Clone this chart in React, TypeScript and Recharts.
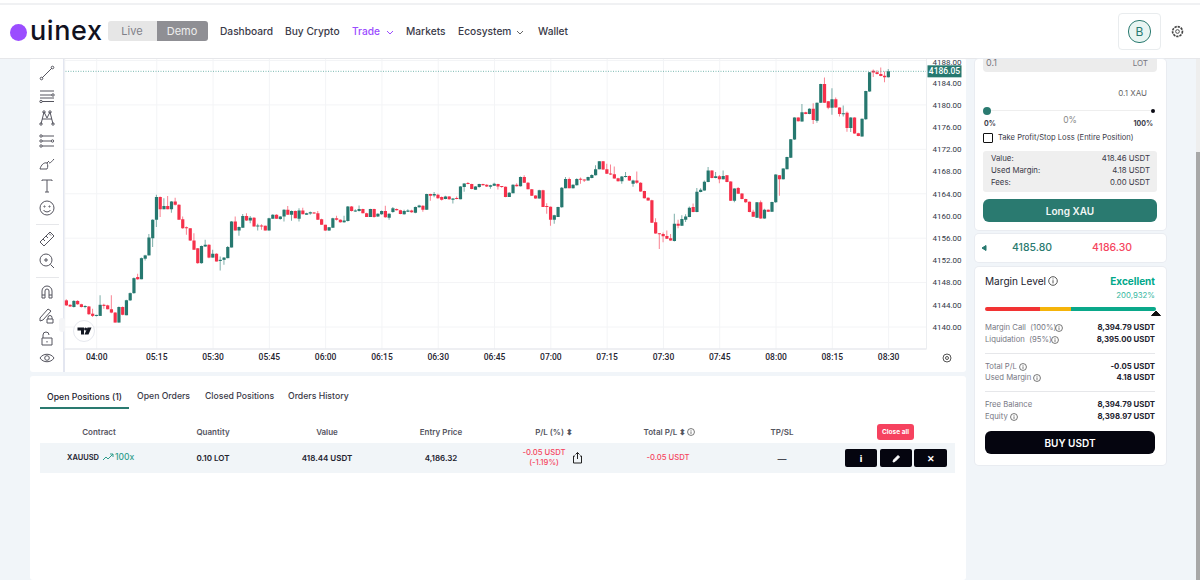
import React from 'react';
import { ComposedChart, Bar, Cell, XAxis, YAxis, CartesianGrid, ReferenceLine } from 'recharts';

const TEAL = '#26786f';
const RED = '#f5304a';
const FONT = 'Inter, sans-serif';
const AXIS_FONT = 'Roboto, sans-serif';

// one minute candles, XAU/USD
const opens = [
  4144.8, 4144.0, 4143.6, 4144.7, 4144.1, 4143.6, 4143.7, 4142.4, 4142.0, 4142.0,
  4144.0, 4143.9, 4143.2, 4142.6, 4140.8, 4143.6, 4142.1, 4144.8, 4146.1, 4149.0,
  4148.6, 4152.3, 4152.9, 4156.0, 4159.3, 4163.4, 4161.2, 4161.8, 4161.2, 4162.6,
  4162.0, 4159.4, 4157.9, 4157.8, 4155.6, 4154.2, 4151.5, 4154.5, 4154.8, 4152.5,
  4153.2, 4151.9, 4152.1, 4152.4, 4154.3, 4159.0, 4157.4, 4157.9, 4160.0, 4159.2,
  4159.7, 4158.1, 4158.3, 4158.25, 4157.4, 4159.5, 4160.2, 4159.45, 4159.9, 4161.1,
  4160.2, 4160.9, 4159.5, 4161.0, 4160.2, 4160.45, 4160.6, 4160.5, 4159.4, 4158.4,
  4157.4, 4157.9, 4159.6, 4159.3, 4158.85, 4159.1, 4161.7, 4160.8, 4160.9, 4161.25,
  4160.5, 4159.8, 4161.25, 4159.9, 4160.3, 4160.9, 4159.7, 4160.7, 4161.25, 4161.05,
  4160.3, 4160.75, 4161.0, 4160.6, 4161.55, 4161.85, 4161.1, 4163.95, 4163.7, 4163.8,
  4163.4, 4163.05, 4163.5, 4162.9, 4163.2, 4163.0, 4165.2, 4165.9, 4165.75, 4164.7,
  4165.2, 4165.75, 4165.6, 4165.25, 4165.45, 4165.75, 4165.35, 4165.25, 4163.4, 4164.1,
  4165.6, 4165.35, 4167.0, 4166.0, 4164.8, 4163.7, 4163.15, 4164.65, 4161.7, 4161.65,
  4159.3, 4159.8, 4161.55, 4165.0, 4166.65, 4165.0, 4165.55, 4166.7, 4166.55, 4166.4,
  4166.85, 4167.35, 4168.4, 4169.85, 4168.4, 4167.65, 4167.5, 4166.8, 4166.25, 4167.0,
  4167.2, 4165.8, 4166.4, 4166.0, 4164.5, 4163.3, 4162.85, 4158.85, 4156.9, 4156.75,
  4156.4, 4156.0, 4155.5, 4158.6, 4158.25, 4159.3, 4159.8, 4161.6, 4160.7, 4164.3,
  4164.6, 4166.1, 4168.2, 4166.85, 4167.15, 4166.6, 4167.35, 4166.2, 4162.75, 4165.05,
  4164.05, 4163.05, 4162.55, 4160.75, 4159.7, 4162.45, 4159.55, 4161.1, 4160.75, 4162.45,
  4167.35, 4166.6, 4168.4, 4170.5, 4173.75, 4177.75, 4177.0, 4178.7, 4178.35, 4179.3,
  4177.15, 4180.4, 4183.75, 4180.65, 4179.5, 4181.0, 4179.55, 4178.3, 4178.6, 4175.85,
  4177.75, 4174.9, 4174.3, 4177.4, 4182.4, 4186.15, 4185.9, 4185.55, 4185.25, 4185.0,
];
const highs = [
  4145.0, 4144.1, 4144.8, 4144.8, 4144.2, 4143.9, 4143.8, 4143.3, 4142.2, 4145.7,
  4144.2, 4144.0, 4145.7, 4142.7, 4143.7, 4143.7, 4144.9, 4146.2, 4148.9, 4149.6,
  4152.5, 4153.0, 4156.75, 4159.4, 4163.8, 4163.5, 4163.2, 4163.6, 4162.7, 4163.3,
  4162.1, 4159.9, 4158.1, 4157.8, 4156.9, 4154.2, 4154.7, 4155.7, 4154.9, 4153.9,
  4153.3, 4152.7, 4152.6, 4154.6, 4159.1, 4159.9, 4158.1, 4160.35, 4160.5, 4160.0,
  4159.8, 4158.6, 4158.5, 4158.3, 4159.7, 4160.3, 4160.3, 4160.0, 4161.2, 4161.8,
  4161.0, 4161.0, 4161.4, 4161.5, 4160.6, 4160.8, 4160.7, 4160.9, 4159.5, 4158.4,
  4158.0, 4159.7, 4160.05, 4159.4, 4160.05, 4161.8, 4161.8, 4161.2, 4161.9, 4161.3,
  4160.6, 4161.3, 4161.3, 4160.5, 4161.0, 4161.85, 4160.5, 4161.6, 4161.35, 4161.1,
  4161.1, 4161.2, 4161.1, 4161.7, 4162.0, 4161.95, 4164.0, 4164.0, 4164.3, 4164.0,
  4163.5, 4163.65, 4163.6, 4163.2, 4163.5, 4165.4, 4165.9, 4166.1, 4165.8, 4165.4,
  4165.8, 4165.8, 4165.7, 4165.6, 4166.0, 4165.8, 4165.4, 4165.3, 4164.3, 4165.7,
  4165.9, 4167.1, 4167.35, 4166.1, 4164.85, 4163.75, 4164.7, 4164.7, 4162.3, 4161.7,
  4160.2, 4161.65, 4165.2, 4167.0, 4166.95, 4165.7, 4166.8, 4166.95, 4166.6, 4167.05,
  4167.5, 4169.15, 4169.9, 4169.9, 4169.4, 4169.25, 4168.9, 4166.9, 4167.2, 4167.9,
  4167.3, 4166.5, 4168.0, 4166.05, 4164.55, 4163.35, 4162.9, 4159.6, 4156.95, 4157.0,
  4157.4, 4156.75, 4160.4, 4159.3, 4160.15, 4160.3, 4161.7, 4162.25, 4165.05, 4165.0,
  4166.4, 4168.8, 4168.25, 4167.9, 4167.4, 4168.2, 4167.4, 4166.25, 4165.0, 4165.2,
  4164.1, 4163.1, 4162.6, 4161.1, 4162.5, 4162.8, 4161.3, 4161.15, 4162.55, 4167.5,
  4167.4, 4168.6, 4170.65, 4173.85, 4177.8, 4177.8, 4180.15, 4178.75, 4179.4, 4180.3,
  4180.45, 4183.8, 4184.95, 4180.7, 4183.0, 4181.35, 4179.6, 4179.9, 4178.8, 4177.8,
  4177.8, 4175.0, 4177.55, 4182.55, 4185.95, 4186.4, 4186.25, 4186.75, 4186.0, 4186.45,
];
const lows = [
  4143.8, 4143.6, 4143.5, 4144.0, 4143.5, 4143.4, 4142.2, 4141.8, 4141.9, 4142.0,
  4143.3, 4143.2, 4142.5, 4140.8, 4140.8, 4142.1, 4142.1, 4144.7, 4146.0, 4148.5,
  4148.6, 4152.0, 4152.9, 4154.4, 4158.0, 4159.8, 4161.2, 4161.2, 4160.6, 4161.9,
  4159.3, 4157.7, 4156.6, 4155.5, 4153.9, 4151.4, 4151.4, 4154.4, 4152.4, 4152.5,
  4151.8, 4150.2, 4151.2, 4152.4, 4154.3, 4157.4, 4156.45, 4157.9, 4159.1, 4158.7,
  4158.1, 4157.4, 4157.5, 4157.4, 4157.4, 4159.5, 4159.5, 4159.3, 4159.0, 4160.2,
  4159.15, 4159.6, 4159.0, 4160.3, 4160.2, 4160.2, 4160.4, 4159.3, 4158.4, 4157.3,
  4157.3, 4157.9, 4159.2, 4158.8, 4158.8, 4159.0, 4160.8, 4160.7, 4160.8, 4160.5,
  4159.8, 4159.8, 4159.7, 4159.8, 4160.2, 4159.7, 4159.3, 4160.6, 4161.0, 4160.3,
  4160.2, 4160.7, 4160.6, 4160.5, 4161.5, 4160.75, 4161.1, 4162.75, 4163.35, 4163.1,
  4162.8, 4163.0, 4162.9, 4162.25, 4163.0, 4163.0, 4164.35, 4165.7, 4164.8, 4164.7,
  4165.1, 4165.5, 4165.2, 4164.9, 4165.4, 4164.75, 4165.1, 4163.35, 4163.4, 4164.1,
  4165.3, 4165.3, 4165.95, 4164.8, 4163.6, 4163.1, 4163.1, 4161.6, 4160.4, 4158.25,
  4158.6, 4159.8, 4161.5, 4165.0, 4165.0, 4164.95, 4165.5, 4165.8, 4166.1, 4166.4,
  4166.8, 4167.3, 4168.4, 4168.3, 4167.55, 4167.4, 4166.7, 4166.2, 4165.8, 4166.95,
  4166.3, 4165.25, 4165.8, 4164.35, 4163.15, 4162.75, 4158.75, 4156.8, 4154.05, 4155.25,
  4155.85, 4155.55, 4155.4, 4157.8, 4158.2, 4158.9, 4159.75, 4160.65, 4160.65, 4164.25,
  4164.55, 4166.05, 4166.8, 4166.8, 4165.9, 4166.55, 4166.05, 4162.7, 4162.45, 4163.95,
  4163.0, 4162.4, 4160.65, 4159.8, 4159.65, 4159.5, 4159.5, 4160.7, 4160.7, 4162.4,
  4163.65, 4166.55, 4168.4, 4170.45, 4173.7, 4177.0, 4176.95, 4178.3, 4178.3, 4176.55,
  4176.8, 4180.35, 4180.35, 4179.2, 4178.25, 4179.5, 4177.9, 4177.9, 4175.15, 4175.1,
  4174.8, 4174.35, 4174.25, 4177.35, 4182.35, 4185.05, 4185.5, 4185.15, 4184.1, 4184.95,
];
const closes = [
  4143.9, 4143.7, 4144.7, 4144.1, 4143.6, 4143.7, 4142.3, 4142.0, 4142.1, 4144.0,
  4143.8, 4143.2, 4142.6, 4140.8, 4143.6, 4142.2, 4144.8, 4146.1, 4148.8, 4148.6,
  4152.4, 4152.9, 4156.1, 4159.3, 4163.4, 4161.2, 4161.8, 4161.2, 4162.6, 4162.0,
  4159.3, 4157.8, 4157.8, 4155.6, 4153.9, 4151.5, 4154.6, 4154.8, 4152.5, 4153.2,
  4151.8, 4152.1, 4152.5, 4154.4, 4159.0, 4157.4, 4158.0, 4160.0, 4159.2, 4159.7,
  4158.1, 4158.3, 4158.1, 4157.4, 4159.6, 4160.2, 4159.5, 4159.9, 4161.1, 4160.2,
  4160.9, 4159.6, 4161.0, 4160.3, 4160.5, 4160.65, 4160.45, 4159.3, 4158.4, 4157.4,
  4157.95, 4159.6, 4159.3, 4158.85, 4159.2, 4161.7, 4160.9, 4161.0, 4161.25, 4160.5,
  4159.8, 4161.25, 4159.8, 4160.4, 4160.9, 4159.75, 4160.4, 4161.4, 4161.05, 4160.35,
  4160.9, 4161.0, 4160.65, 4161.6, 4161.9, 4161.1, 4163.95, 4163.65, 4163.95, 4163.2,
  4162.9, 4163.5, 4163.0, 4163.15, 4163.05, 4165.3, 4165.85, 4165.75, 4164.85, 4165.3,
  4165.75, 4165.55, 4165.3, 4165.55, 4165.8, 4165.3, 4165.2, 4163.4, 4164.2, 4165.6,
  4165.35, 4167.0, 4166.0, 4164.8, 4163.65, 4163.15, 4164.65, 4161.6, 4161.6, 4159.3,
  4160.15, 4161.6, 4165.1, 4166.65, 4165.0, 4165.6, 4166.65, 4166.5, 4166.4, 4167.0,
  4167.4, 4168.4, 4169.85, 4168.35, 4167.6, 4167.45, 4166.75, 4166.25, 4167.1, 4167.2,
  4166.4, 4166.4, 4166.0, 4164.4, 4163.2, 4162.8, 4158.8, 4156.85, 4156.7, 4156.35,
  4155.9, 4155.6, 4158.6, 4158.25, 4159.45, 4159.9, 4161.5, 4160.7, 4164.35, 4164.7,
  4166.15, 4168.2, 4166.85, 4167.15, 4166.6, 4167.2, 4166.1, 4162.75, 4164.95, 4164.0,
  4163.05, 4162.45, 4160.7, 4159.85, 4162.45, 4159.55, 4161.1, 4160.75, 4162.5, 4167.45,
  4166.6, 4168.55, 4170.6, 4173.8, 4177.75, 4177.05, 4178.7, 4178.35, 4179.3, 4177.3,
  4180.4, 4183.75, 4180.4, 4179.5, 4181.0, 4179.55, 4178.35, 4178.5, 4175.85, 4177.75,
  4174.85, 4174.4, 4177.5, 4182.5, 4185.9, 4185.85, 4185.55, 4185.2, 4185.0, 4186.05,
];

const tickSlots = [8, 24, 39, 54, 69, 84, 99, 114, 129, 144, 159, 174, 189, 204, 219];
const tickLabels = ['04:00', '05:15', '05:30', '05:45', '06:00', '06:15', '06:30', '06:45', '07:00', '07:15', '07:30', '07:45', '08:00', '08:15', '08:30'];
const priceTicks = [4140, 4144, 4148, 4152, 4156, 4160, 4164, 4168, 4172, 4176, 4180, 4184, 4188];
const lastPrice = 4186.05;

const candles = opens.map((open, i) => ({
  slot: i,
  body: [Math.min(open, closes[i]), Math.max(open, closes[i])],
  wick: [lows[i], highs[i]],
  up: closes[i] >= open,
}));

function PriceBadge({ viewBox }: any) {
  const x = viewBox.x + viewBox.width;
  return (
    <g>
      <rect x={x + 1} y={viewBox.y - 6} width={34} height={12} fill={TEAL} />
      <text x={x + 18} y={viewBox.y + 3} textAnchor="middle" fontSize={8.5} fontWeight={500} fontFamily={AXIS_FONT} fill="#fff">
        {lastPrice.toFixed(2)}
      </text>
    </g>
  );
}

function CandleChart() {
  return (
    <ComposedChart
      width={902}
      height={312}
      data={candles}
      barGap={0}
      margin={{ top: 0, right: 0, bottom: 0, left: 0.8 }}
    >
      <CartesianGrid xAxisId="body" stroke="#f3f4f6" />
      <XAxis
        xAxisId="body"
        dataKey="slot"
        ticks={tickSlots}
        interval={0}
        tickFormatter={(v: number) => tickLabels[tickSlots.indexOf(v)]}
        padding={{ left: 0, right: 36 }}
        height={21}
        tickSize={0}
        tickMargin={5}
        axisLine={{ stroke: '#e3e5ea' }}
        tick={{ fontSize: 8.5, fontWeight: 500, fontFamily: AXIS_FONT, fill: '#1f2430' }}
      />
      <XAxis xAxisId="wick" dataKey="slot" hide padding={{ left: 0, right: 36 }} />
      <YAxis
        orientation="right"
        domain={[4136.04, 4188.45]}
        ticks={priceTicks}
        allowDataOverflow
        width={39.5}
        tickSize={0}
        tickMargin={6}
        axisLine={{ stroke: '#eceef1' }}
        tickFormatter={(v: number) => v.toFixed(2)}
        tick={{ fontSize: 8, fontFamily: AXIS_FONT, fill: '#333846' }}
      />
      <ReferenceLine
        xAxisId="body"
        y={lastPrice}
        stroke="#3f9a8f"
        strokeOpacity={0.7}
        strokeDasharray="1 1.5"
        label={(props: any) => <PriceBadge {...props} />}
      />
      <Bar xAxisId="wick" dataKey="wick" barSize={1} isAnimationActive={false}>
        {candles.map((c) => (
          <Cell key={c.slot} fill={c.up ? TEAL : RED} fillOpacity={0.6} />
        ))}
      </Bar>
      <Bar xAxisId="body" dataKey="body" barSize={3.2} minPointSize={1} isAnimationActive={false}>
        {candles.map((c) => (
          <Cell key={c.slot} fill={c.up ? TEAL : RED} />
        ))}
      </Bar>
    </ComposedChart>
  );
}

// absolutely placed text; align picks which side x refers to
function T({ x, y, s = 9, w = 400, c = '#3a3a48', a = 'left', children }: any) {
  const shift = a === 'left' ? '0' : a === 'right' ? '-100%' : '-50%';
  return (
    <span
      style={{
        position: 'absolute', left: x, top: y, fontSize: s, fontWeight: w, color: c, whiteSpace: 'pre',
        lineHeight: 1, transform: `translate(${shift}, -50%)`,
      }}
    >
      {children}
    </span>
  );
}

function Box({ x, y, w, h, bg = '#fff', r = 0, style }: any) {
  return <div style={{ position: 'absolute', left: x, top: y, width: w, height: h, background: bg, borderRadius: r, ...style }} />;
}

function Icon({ x, y, size = 18, box = 18, children, c = '#55555f' }: any) {
  return (
    <svg
      width={size}
      height={size}
      viewBox={`0 0 ${box} ${box}`}
      fill="none"
      stroke={c}
      strokeWidth={1}
      style={{ position: 'absolute', left: x - size / 2, top: y - size / 2 }}
    >
      {children}
    </svg>
  );
}

function Info({ x, y, size = 8 }: any) {
  return (
    <Icon x={x} y={y} size={size} box={10} c="#555">
      <circle cx={5} cy={5} r={4.3} />
      <path d="M5 4.2V7.4M5 2.5V3.4" />
    </Icon>
  );
}

const toolbarIcons = [
  [73, <g><path d="M4 14L14 4" /><circle cx={3.5} cy={14.5} r={1.3} /><circle cx={14.5} cy={3.5} r={1.3} /></g>],
  [96, <g><path d="M2 4H16M2 8H14M2 11H16M4 14.5H16" /><circle cx={15} cy={8} r={1.2} /><circle cx={3} cy={14.5} r={1.2} /></g>],
  [118, <g><path d="M3 15L6 3L9 9L12 3L15 15M4 10L14 10" /><circle cx={3} cy={15} r={1.2} /><circle cx={6} cy={3} r={1.2} /><circle cx={12} cy={3} r={1.2} /><circle cx={15} cy={15} r={1.2} /></g>],
  [141, <g><path d="M4 4H16M4 9H13M4 14H16" /><circle cx={3} cy={4} r={1.2} /><circle cx={14.5} cy={9} r={1.2} /><circle cx={3} cy={14} r={1.2} /><circle cx={3} cy={9} r={1.2} /></g>],
  [163, <g><path d="M2 15C3 11 6 8 9 9C10 11 10 13 9 15ZM9 9L11 7M11 9C13 9 14 7 16 5" /></g>],
  [186, <g><path d="M4 4V3H14V4M9 3V15M7 15H11" /></g>],
  [208, <g><circle cx={9} cy={9} r={7} /><circle cx={6.5} cy={7.5} r={0.6} /><circle cx={11.5} cy={7.5} r={0.6} /><path d="M5.5 11C7 13.5 11 13.5 12.5 11" /></g>],
  [239, <g><path d="M2 12L12 2L16 6L6 16ZM5 9L7 11M8 6L10 8M11 3.5L13 5.5" /></g>],
  [261, <g><circle cx={8} cy={8} r={6} /><path d="M12.5 12.5L16 16M6 8H10M8 6V10" /></g>],
  [292, <g><path d="M4 15V8A5 5 0 0 1 14 8V15H11V8A2 2 0 0 0 7 8V15ZM4 12H7M11 12H14" /></g>],
  [315, <g><path d="M2 12L10 3L13 5L5 14L2 15ZM10 13V11.5A1.5 1.5 0 0 1 14 11.5V13M9 13H15V17H9Z" /></g>],
  [338, <g><path d="M5 9V6A3 3 0 0 1 11 6M4 9H14V16H4ZM9 12V13.5" /></g>],
  [358, <g><path d="M2 9C5 4 13 4 16 9C13 14 5 14 2 9Z" /><circle cx={9} cy={9} r={2.3} /></g>],
] as const;

const summaryRows = [
  ['Value:', '418.46 USDT', 159],
  ['Used Margin:', '4.18 USDT', 171],
  ['Fees:', '0.00 USDT', 183],
] as const;

const marginRows = [
  ['Margin Call  (100%)', '8,394.79 USDT', 328, 1059],
  ['Liquidation  (95%)', '8,395.00 USDT', 340, 1055],
  ['Total P/L', '-0.05 USDT', 367, 1023],
  ['Used Margin', '4.18 USDT', 378, 1037],
  ['Free Balance', '8,394.79 USDT', 405, 0],
  ['Equity', '8,398.97 USDT', 417, 1014],
] as const;

const tableHeads = [
  ['Contract', 99],
  ['Quantity', 213],
  ['Value', 327],
  ['Entry Price', 441],
  ['P/L (%) ⬍', 554],
  ['Total P/L ⬍', 665],
  ['TP/SL', 782],
] as const;

const cardEdge = { boxShadow: '0 0 0 1px #e9ecf1' };

export default function App() {
  return (
    <div style={{ position: 'fixed', left: 0, top: 0, width: 1200, height: 580, overflow: 'hidden', background: '#f1f5f9', fontFamily: FONT }}>
      {/* chart panel */}
      <Box x={30} y={58} w={936} h={314} r={3} />
      <Box x={63} y={58} w={2} h={314} bg="#e3e6f0" />
      <div style={{ position: 'absolute', left: 64, top: 58 }}>
        <CandleChart />
      </div>
      {toolbarIcons.map(([y, icon]) => (
        <Icon key={y} x={47} y={y}>{icon}</Icon>
      ))}
      <Box x={36} y={224} w={23} h={1} bg="#e6e7ea" />
      <Box x={36} y={277} w={23} h={1} bg="#e6e7ea" />
      <Box x={59} y={318} w={6} h={14} r={3} bg="#f4f5f7" />
      <Box x={73} y={320} w={20} h={20} r={11} style={{ border: '1px solid #e6e8ee' }} />
      <Icon x={84} y={331} size={15} box={15} c="none">
        <path d="M0.5 3.5H7V10.5H4V6.5H0.5Z" fill="#131722" />
        <circle cx={8.6} cy={5} r={1.5} fill="#131722" />
        <path d="M10.5 3.5H14.5L11.5 10.5H7.5Z" fill="#131722" />
      </Icon>
      <Icon x={947} y={358} size={10} box={10} c="#555">
        <circle cx={5} cy={5} r={4} />
        <circle cx={5} cy={5} r={1.5} />
      </Icon>

      {/* scrollbar */}
      <Box x={1196} y={58} w={4} h={94} bg="#eeeeee" />
      <Box x={1196} y={152} w={4} h={428} bg="#a8a8a8" />

      {/* nav */}
      <Box x={0} y={0} w={1200} h={3} />
      <Box x={0} y={3} w={1200} h={2} bg="#f0f1f3" />
      <Box x={0} y={5} w={1200} h={53} style={{ borderBottom: '1px solid #e6e7ea' }} />
      <Box x={10} y={24} w={17} h={17} r={9} bg="#9b4dff" />
      <T x={30} y={30} s={27} w={500} c="#12121f">
        <span style={{ letterSpacing: 0.6 }}>uinex</span>
      </T>
      <Box x={108} y={21} w={50} h={20} r="3px 0 0 3px" bg="#e6e6e6" />
      <Box x={157} y={21} w={51} h={20} r="0 3px 3px 0" bg="#8f8f94" />
      <T x={132} y={31} s={11} c="#7f7f88" a="center">Live</T>
      <T x={182} y={31} s={11} c="#eeeeee" a="center">Demo</T>
      <T x={220} y={31} s={10.2} w={500}>Dashboard</T>
      <T x={285} y={31} s={10.2} w={500}>Buy Crypto</T>
      <T x={352} y={31} s={10.2} w={500} c="#9b4dff">Trade</T>
      <T x={406} y={31} s={10.2} w={500}>Markets</T>
      <T x={458} y={31} s={10.2} w={500}>Ecosystem</T>
      <T x={538} y={31} s={10.2} w={500}>Wallet</T>
      <Icon x={390} y={32} size={8} box={8} c="#9b4dff"><path d="M1 3L4 6L7 3" /></Icon>
      <Icon x={520} y={32} size={8} box={8} c="#666"><path d="M1 3L4 6L7 3" /></Icon>
      <Box x={1118} y={13} w={41} h={35} r={4} style={{ border: '1px solid #e9ecee' }} />
      <div style={{ position: 'absolute', left: 1128, top: 20, width: 21, height: 21, borderRadius: 11, background: '#e8f5f2', border: '1px solid #2a7a70', display: 'flex', alignItems: 'center', justifyContent: 'center', color: '#2a7a70', fontSize: 12 }}>B</div>
      <Icon x={1177} y={31} size={13} box={14} c="#444">
        <circle cx={7} cy={7} r={2} />
        <circle cx={7} cy={7} r={5.3} strokeDasharray="2.5 1" strokeWidth={1.8} />
      </Icon>

      {/* order card */}
      <Box x={975} y={59} w={191} h={171} r={4} style={cardEdge} />
      <Box x={983} y={59} w={174} h={13} r="0 0 4px 4px" bg="#ececec" />
      <T x={986} y={62} s={9} c="#77777f">0.1</T>
      <T x={1148} y={63} s={8} c="#77777f" a="right">LOT</T>
      <T x={1147} y={93} s={8} c="#666" a="right">0.1 XAU</T>
      <Box x={987} y={110} w={166} h={1} bg="#eeeeee" />
      <Box x={983} y={107} w={8} h={8} r={4} bg="#2a7a70" />
      <Box x={1151} y={109} w={4} h={4} r={2} bg="#0a0a14" />
      <T x={984} y={123} s={7} w={700}>0%</T>
      <T x={1070} y={120} s={8.5} c="#888" a="center">0%</T>
      <T x={1153} y={123} s={7} w={700} a="right">100%</T>
      <Box x={983} y={133} w={8} h={8} r={1} bg="#fff" style={{ border: '1.5px solid #111' }} />
      <T x={998} y={138} s={7.6}>Take Profit/Stop Loss (Entire Position)</T>
      <Box x={983} y={151} w={174} h={41} r={3} bg="#efefef" />
      {summaryRows.map(([k, v, y]) => (
        <React.Fragment key={k}>
          <T x={991} y={y} s={7.8}>{k}</T>
          <T x={1150} y={y} s={7.8} a="right">{v}</T>
        </React.Fragment>
      ))}
      <Box x={983} y={199} w={174} h={23} r={6} bg="#2a7a70" />
      <T x={1070} y={211} s={10} w={600} c="#f3f7f6" a="center">Long XAU</T>

      {/* quote card */}
      <Box x={975} y={234} w={191} h={28} r={4} style={cardEdge} />
      <Icon x={984} y={248} size={8} box={8} c={TEAL}><path d="M2 4L6 1.5V6.5Z" fill={TEAL} /></Icon>
      <T x={1032} y={248} s={10.5} w={500} c="#2a7a70" a="center">4185.80</T>
      <T x={1112} y={248} s={10.5} w={500} c="#f5455e" a="center">4186.30</T>

      {/* margin card */}
      <Box x={975} y={267} w={191} h={198} r={4} style={cardEdge} />
      <T x={985} y={281} s={10.1} c="#23232f">Margin Level</T>
      <Info x={1053} y={281} size={10} />
      <T x={1155} y={281} s={10} w={700} c="#00a88a" a="right">Excellent</T>
      <T x={1155} y={296} s={7.8} c="#38b79f" a="right">200,932%</T>
      <Box x={985} y={307} w={56} h={4} r="2px 0 0 2px" bg="#f23333" />
      <Box x={1040} y={307} w={31} h={4} bg="#f5b40a" />
      <Box x={1071} y={307} w={85} h={4} r="0 2px 2px 0" bg="#0aa88a" />
      <Icon x={1156} y={313} size={10} box={10} c="#111"><path d="M0.5 7.5L5 3L9.5 7.5Z" fill="#111" /></Icon>
      {marginRows.map(([k, v, y, info]) => (
        <React.Fragment key={k}>
          <T x={985} y={y} s={7.7} c="#787884">{k}</T>
          <T x={1155} y={y} s={7.8} w={700} c="#23232f" a="right">{v}</T>
          {info > 0 && <Info x={info} y={y} />}
        </React.Fragment>
      ))}
      <Box x={985} y={353} w={170} h={1} bg="#e6e7ea" />
      <Box x={985} y={391} w={170} h={1} bg="#e6e7ea" />
      <Box x={985} y={431} w={170} h={23} r={6} bg="#05050f" />
      <T x={1070} y={443} s={10} w={600} c="#fff" a="center">BUY USDT</T>

      {/* positions panel */}
      <Box x={30} y={376} w={936} h={204} r={3} />
      <T x={47} y={397} s={8.7} w={500} c="#23232f">Open Positions (1)</T>
      <T x={137} y={396} s={8.7} w={500}>Open Orders</T>
      <T x={205} y={396} s={8.7} w={500}>Closed Positions</T>
      <T x={288} y={396} s={8.7} w={500}>Orders History</T>
      <Box x={40} y={407} w={89} h={2} bg="#2a7a70" />
      {tableHeads.map(([k, x]) => (
        <T key={k} x={x} y={432} s={8} w={600} c="#55555f" a="center">{k}</T>
      ))}
      <Info x={691} y={432} />
      <Box x={877} y={424} w={37} h={16} r={3} bg="#f6425f" />
      <T x={895.5} y={432} s={6.5} w={700} c="#fff" a="center">Close all</T>
      <Box x={40} y={443} w={915} h={30} bg="#f1f5f8" />
      <T x={67} y={458} s={7.5} w={600} c="#23232f">XAUUSD</T>
      <Icon x={108} y={457} size={12} box={12} c="#2f9d8c"><path d="M1 9L4 6L6 8L11 3M8 3H11V6" /></Icon>
      <T x={115} y={457} s={8.5} w={500} c="#2f9d8c">100x</T>
      <T x={213} y={458} s={8} w={600} c="#23232f" a="center">0.10 LOT</T>
      <T x={327} y={458} s={8} w={600} c="#23232f" a="center">418.44 USDT</T>
      <T x={441} y={458} s={8} w={600} c="#23232f" a="center">4,186.32</T>
      <T x={544} y={453} s={7.7} w={500} c="#f5455e" a="center">-0.05 USDT</T>
      <T x={544} y={463} s={7.7} w={500} c="#f5455e" a="center">(-1.19%)</T>
      <Icon x={577} y={457} size={13} box={13} c="#222"><path d="M4 5H2.5V12H10.5V5H9M6.5 8V1.5M4.5 3.5L6.5 1.5L8.5 3.5" /></Icon>
      <T x={668} y={458} s={7.7} w={500} c="#f5455e" a="center">-0.05 USDT</T>
      <T x={782} y={458} s={9} c="#23232f" a="center">—</T>
      <Box x={845} y={449} w={32} h={18} r={2} bg="#05050f" />
      <Box x={880} y={449} w={32} h={18} r={2} bg="#05050f" />
      <Box x={914} y={449} w={33} h={18} r={2} bg="#05050f" />
      <T x={861} y={458} s={9} w={800} c="#fff" a="center">i</T>
      <Icon x={896} y={458} size={9} box={9} c="#fff"><path d="M1 8L1.5 6L6 1.5L7.5 3L3 7.5Z" fill="#fff" /></Icon>
      <T x={930.5} y={458} s={9} w={800} c="#fff" a="center">✕</T>
    </div>
  );
}
